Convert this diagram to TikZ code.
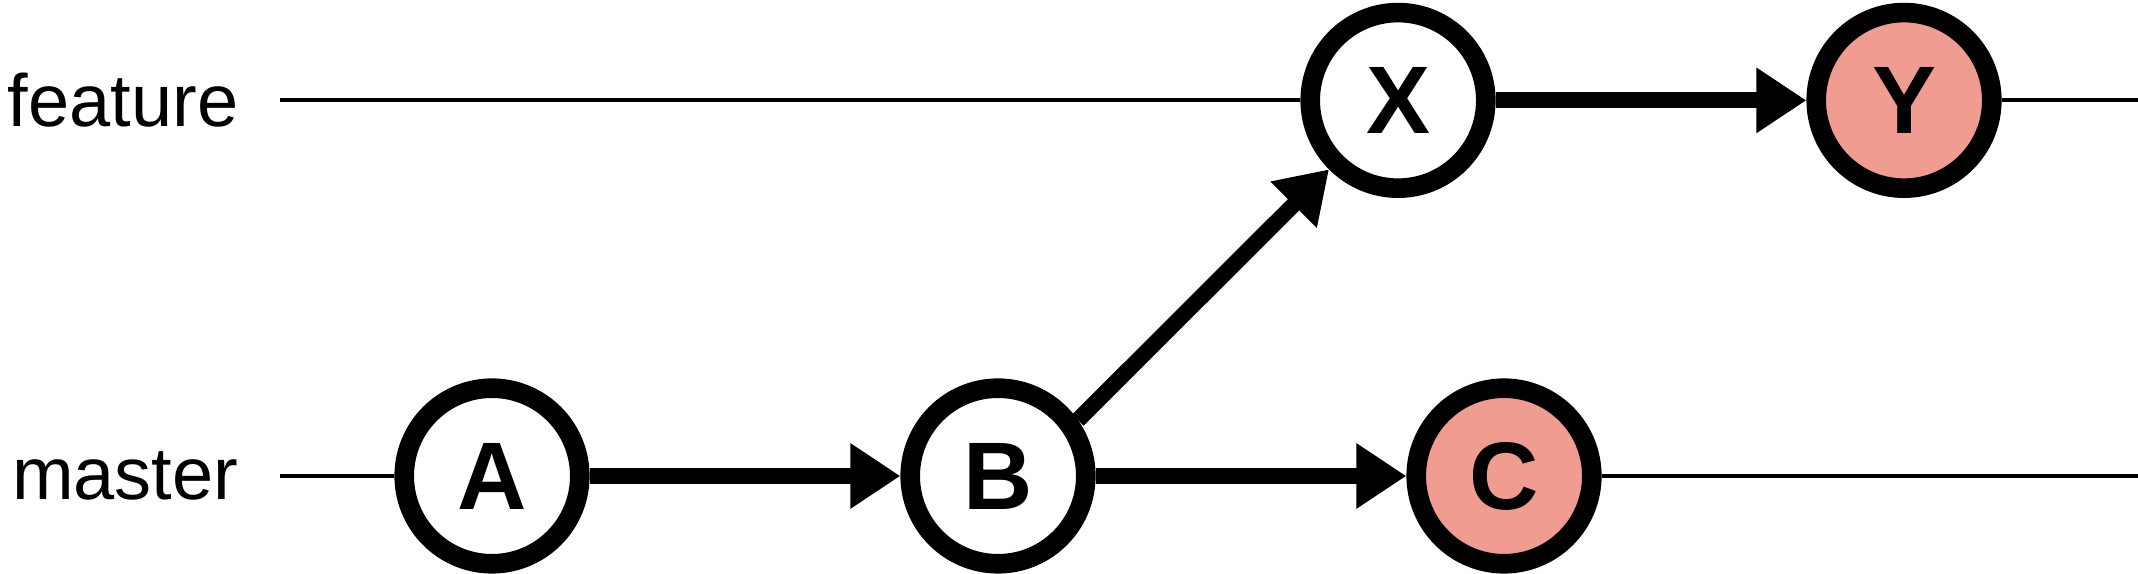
\documentclass[tikz,border=0pt]{standalone}
\usepackage{fontspec}
\setmainfont{Liberation Sans}
\newfontfamily\commitfont{Liberation Sans Bold}
\usetikzlibrary{arrows.meta, positioning}
\definecolor{headred}{RGB}{241,156,145}

\begin{document}
\begin{tikzpicture}[node distance=126.5pt, on grid, >={Triangle[length=12.5pt, width=15.5pt]}]
    \tikzstyle{commit} = [draw, circle, line width=4.9pt, minimum size=43.9pt, inner sep=0pt, fill=white, font=\commitfont\fontsize{24}{28}\selectfont]
    \tikzstyle{head} = [commit, fill=headred]
    \tikzstyle{branch} = [inner sep=0pt, anchor=east, font=\fontsize{18.5}{22}\selectfont]
    \tikzstyle{history} = [line width=1pt]
    \tikzstyle{parent} = [->, line width=4pt]

    \useasboundingbox (0,0) rectangle (534.5pt,143.5pt);

    % commits
    \node [commit] (A) at (123pt,24.5pt) {A};
    \node [commit, right=of A] (B) {B};
    \node [head, right=of B] (C) {C};
    \node [commit, above right=93.9pt and 100pt of B] (X) {X};
    \node [head, right=of X] (Y) {Y};

    % branch lines
    \coordinate [left=53pt of A] (mstart);
    \coordinate [right=158.5pt of C] (mend);
    \coordinate [left=279.5pt of X] (fstart);
    \coordinate [right=58.5pt of Y] (fend);

    \node [branch] (master) at ([xshift=-10.25pt]mstart) {master};
    \node [branch] (feature) at ([xshift=-10.25pt]fstart) {feature};

    \draw [history] (mstart) -- (A);
    \draw [history] (C) -- (mend);
    \draw [history] (fstart) -- (X);
    \draw [history] (Y) -- (fend);

    \draw [parent] (A) -- (B);
    \draw [parent] (B) -- (C);
    \draw [parent] (X) -- (Y);
    \draw [parent] (B.35) -- (X.225);
\end{tikzpicture}
\end{document}
